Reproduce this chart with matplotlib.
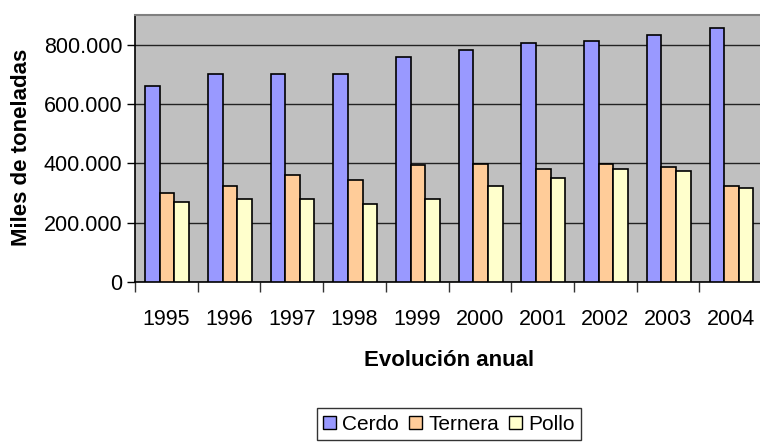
import matplotlib
matplotlib.use("Agg")
import matplotlib.pyplot as plt
from matplotlib.ticker import FuncFormatter, FixedLocator
from matplotlib.patches import Patch
import numpy as np

plt.rcParams['font.family'] = ['Liberation Sans', 'DejaVu Sans']

years = ["1995", "1996", "1997", "1998", "1999", "2000", "2001", "2002", "2003", "2004"]
cerdo = [660000, 700000, 700000, 700000, 757000, 781000, 807000, 812000, 832000, 857000]
ternera = [300000, 325000, 362000, 343000, 393000, 399000, 381000, 399000, 387000, 324000]
pollo = [268000, 281000, 281000, 262000, 281000, 325000, 350000, 381000, 375000, 318000]
series_names = ["Cerdo", "Ternera", "Pollo"]
colors = ["#9999FF", "#FFCC99", "#FFFFCC"]

W, H = 760, 442
fig = plt.figure(figsize=(W / 100, H / 100), dpi=100)
fig.patch.set_facecolor("white")
ax = fig.add_axes([135 / W, (H - 282) / H, 627 / W, 267 / H])
ax.set_facecolor("#C0C0C0")

x = np.arange(len(years))
bw = 0.233
for i, (vals, c) in enumerate(zip([cerdo, ternera, pollo], colors)):
    ax.bar(x + (i - 1) * bw + 0.013, vals, width=bw, color=c, edgecolor="black",
           linewidth=1.2, zorder=3)

ax.set_xlim(-0.5, len(years) - 0.5)
ax.set_ylim(0, 900000)
ax.set_yticks([0, 200000, 400000, 600000, 800000])
ax.yaxis.set_major_formatter(FuncFormatter(lambda v, p: "0" if v == 0 else f"{int(v):,}".replace(",", ".")))
ax.grid(axis="y", color="#222222", linewidth=1.0, zorder=1)
ax.set_axisbelow(True)

ax.set_xticks(x)
ax.set_xticklabels(years)
ax.xaxis.set_minor_locator(FixedLocator(np.arange(-0.5, len(years), 1.0)))
ax.tick_params(axis="x", which="major", length=0, pad=27, labelsize=15.5)
ax.tick_params(axis="x", which="minor", length=7, width=1, color="#333333")
ax.tick_params(axis="y", length=6, width=1, labelsize=15.5, pad=3)
for t in ax.get_xticklabels():
    t.set_verticalalignment("center")

for s in ["left", "bottom"]:
    ax.spines[s].set_color("black")
    ax.spines[s].set_linewidth(1.2)
ax.spines["top"].set_color("#808080")
ax.spines["top"].set_linewidth(1.5)
ax.spines["right"].set_visible(False)

fig.text(22 / W, (H - 147) / H, "Miles de toneladas", rotation=90, ha="center", va="center",
         fontsize=16, fontweight="bold")
fig.text(449 / W, (H - 361) / H, "Evolución anual", ha="center", va="center",
         fontsize=16, fontweight="bold")

handles = [Patch(facecolor=c, edgecolor="black", linewidth=1.0) for c in colors]
leg = fig.legend(handles, series_names, loc="center", bbox_to_anchor=(449 / W, (H - 424) / H),
                 ncol=3, fontsize=15, frameon=True, fancybox=False, edgecolor="black",
                 handlelength=0.6, handleheight=0.6, handletextpad=0.3, columnspacing=0.5,
                 borderpad=0.3, borderaxespad=0)
leg.get_frame().set_linewidth(1.0)

fig.savefig("out.png", dpi=100)
